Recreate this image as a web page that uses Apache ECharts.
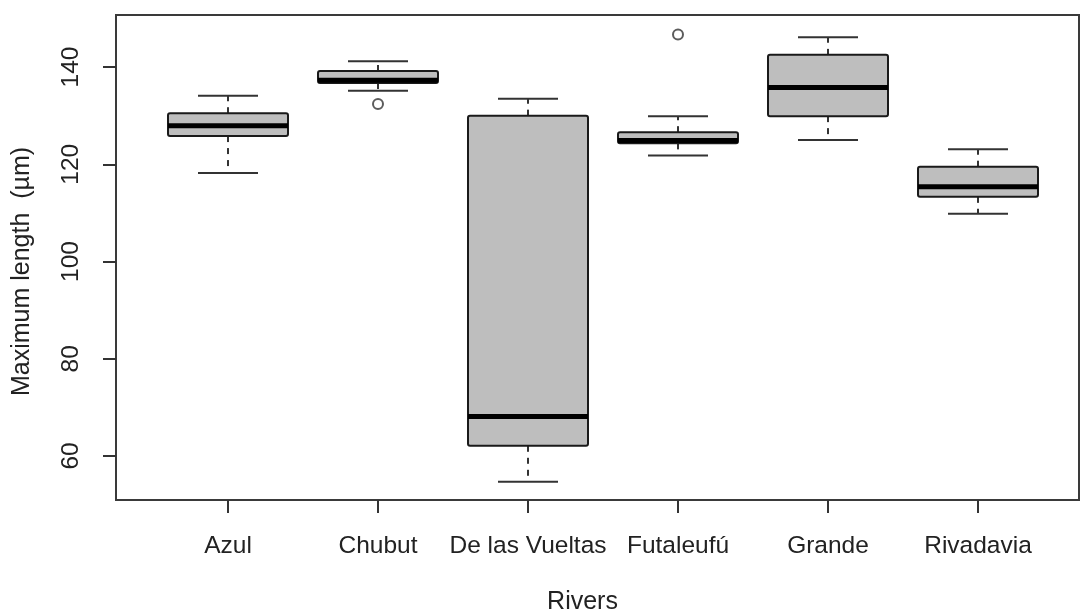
<!DOCTYPE html>
<html>
<head>
<meta charset="utf-8">
<script src="https://cdn.jsdelivr.net/npm/echarts@6/dist/echarts.min.js"></script>
<style>
html,body{margin:0;padding:0;background:#fff;}
#chart{width:1080px;height:613px;}
</style>
</head>
<body>
<div id="chart"></div>
<script>
// ---- data ----
const categories = ['Azul', 'Chubut', 'De las Vueltas', 'Futaleufú', 'Grande', 'Rivadavia'];
const lowerWhisker = [118.2, 135.1, 54.7, 121.8, 125.0, 109.8];
const q1 = [125.8, 136.7, 62.1, 124.3, 129.9, 113.3];
const median = [127.9, 137.3, 68.1, 124.9, 135.8, 115.4];
const q3 = [130.5, 139.2, 130.0, 126.6, 142.5, 119.5];
const upperWhisker = [134.1, 141.2, 133.5, 129.9, 146.1, 123.1];
const outlierCategory = [1, 3];
const outlierValue = [132.4, 146.7];
const yTicks = [60, 80, 100, 120, 140];
const yMin = 50.95, yMax = 150.7;

const boxRows = categories.map((c, i) => [i, lowerWhisker[i], q1[i], median[i], q3[i], upperWhisker[i]]);
const outlierRows = outlierCategory.map((c, k) => [c, outlierValue[k]]);

const FONT = 'Liberation Sans, Arial, sans-serif';
const TXT = '#222';
const LINE = '#333';

function renderBox(params, api) {
  const i = api.value(0);
  const band = api.size([1, 0])[0];
  const half = band * 0.4, capHalf = band * 0.2;
  const pLo = api.coord([i, api.value(1)]);
  const pQ1 = api.coord([i, api.value(2)]);
  const pMed = api.coord([i, api.value(3)]);
  const pQ3 = api.coord([i, api.value(4)]);
  const pHi = api.coord([i, api.value(5)]);
  const x = pMed[0];
  const lineStyle = { stroke: LINE, lineWidth: 2, fill: null };
  const dashStyle = { stroke: LINE, lineWidth: 2, lineDash: [6, 6], fill: null };
  return {
    type: 'group',
    children: [
      { type: 'line', shape: { x1: x, y1: pQ3[1], x2: x, y2: pHi[1] }, style: dashStyle },
      { type: 'line', shape: { x1: x, y1: pQ1[1], x2: x, y2: pLo[1] }, style: dashStyle },
      { type: 'line', shape: { x1: x - capHalf, y1: pHi[1], x2: x + capHalf, y2: pHi[1] }, style: lineStyle },
      { type: 'line', shape: { x1: x - capHalf, y1: pLo[1], x2: x + capHalf, y2: pLo[1] }, style: lineStyle },
      { type: 'rect', shape: { x: x - half, y: pQ3[1], width: half * 2, height: pQ1[1] - pQ3[1], r: 2 },
        style: { fill: '#bebebe', stroke: '#1a1a1a', lineWidth: 2 } },
      { type: 'line', shape: { x1: x - half, y1: pMed[1], x2: x + half, y2: pMed[1] },
        style: { stroke: '#000', lineWidth: 5 } }
    ]
  };
}

const chart = echarts.init(document.getElementById('chart'), null, { renderer: 'canvas' });
chart.setOption({
  animation: false,
  backgroundColor: '#fff',
  textStyle: { fontFamily: FONT },
  grid: [
    { left: 116, top: 15, width: 963, height: 485, show: true, borderColor: '#3a3a3a', borderWidth: 2,
      backgroundColor: 'transparent', outerBoundsMode: 'none', containLabel: false },
    { left: 153, top: 15, width: 900, height: 485, outerBoundsMode: 'none', containLabel: false }
  ],
  xAxis: [
    { gridIndex: 0, type: 'value', show: false, min: 0, max: 1 },
    {
      gridIndex: 1, type: 'category', data: categories,
      axisLine: { show: false },
      axisTick: { show: true, alignWithLabel: true, length: 13, lineStyle: { color: LINE, width: 2 } },
      axisLabel: { color: TXT, fontSize: 24.5, margin: 34, fontFamily: FONT, interval: 0 },
      splitLine: { show: false },
      name: 'Rivers', nameLocation: 'middle', nameGap: 90,
      nameTextStyle: { color: TXT, fontSize: 25, fontFamily: FONT, padding: [0, 41, 0, 0] }
    }
  ],
  yAxis: [
    {
      gridIndex: 0, type: 'value', min: yMin, max: yMax,
      axisLine: { show: false },
      axisTick: { show: true, length: 13, customValues: yTicks, lineStyle: { color: LINE, width: 2 } },
      axisLabel: { color: TXT, fontSize: 24.5, rotate: 90, margin: 32, customValues: yTicks, fontFamily: FONT },
      splitLine: { show: false },
      name: 'Maximum length  (µm)', nameLocation: 'middle', nameGap: 81,
      nameTextStyle: { color: TXT, fontSize: 25, fontFamily: FONT, padding: [0, 28, 0, 0] }
    },
    { gridIndex: 1, type: 'value', min: yMin, max: yMax, show: false }
  ],
  series: [
    {
      type: 'custom', xAxisIndex: 1, yAxisIndex: 1,
      data: boxRows, encode: { x: 0, y: [1, 2, 3, 4, 5] },
      renderItem: renderBox, z: 2
    },
    {
      type: 'scatter', xAxisIndex: 1, yAxisIndex: 1,
      data: outlierRows, symbol: 'circle', symbolSize: 10,
      itemStyle: { color: '#fff', borderColor: LINE, borderWidth: 2 }, z: 3
    }
  ]
});
</script>
</body>
</html>
